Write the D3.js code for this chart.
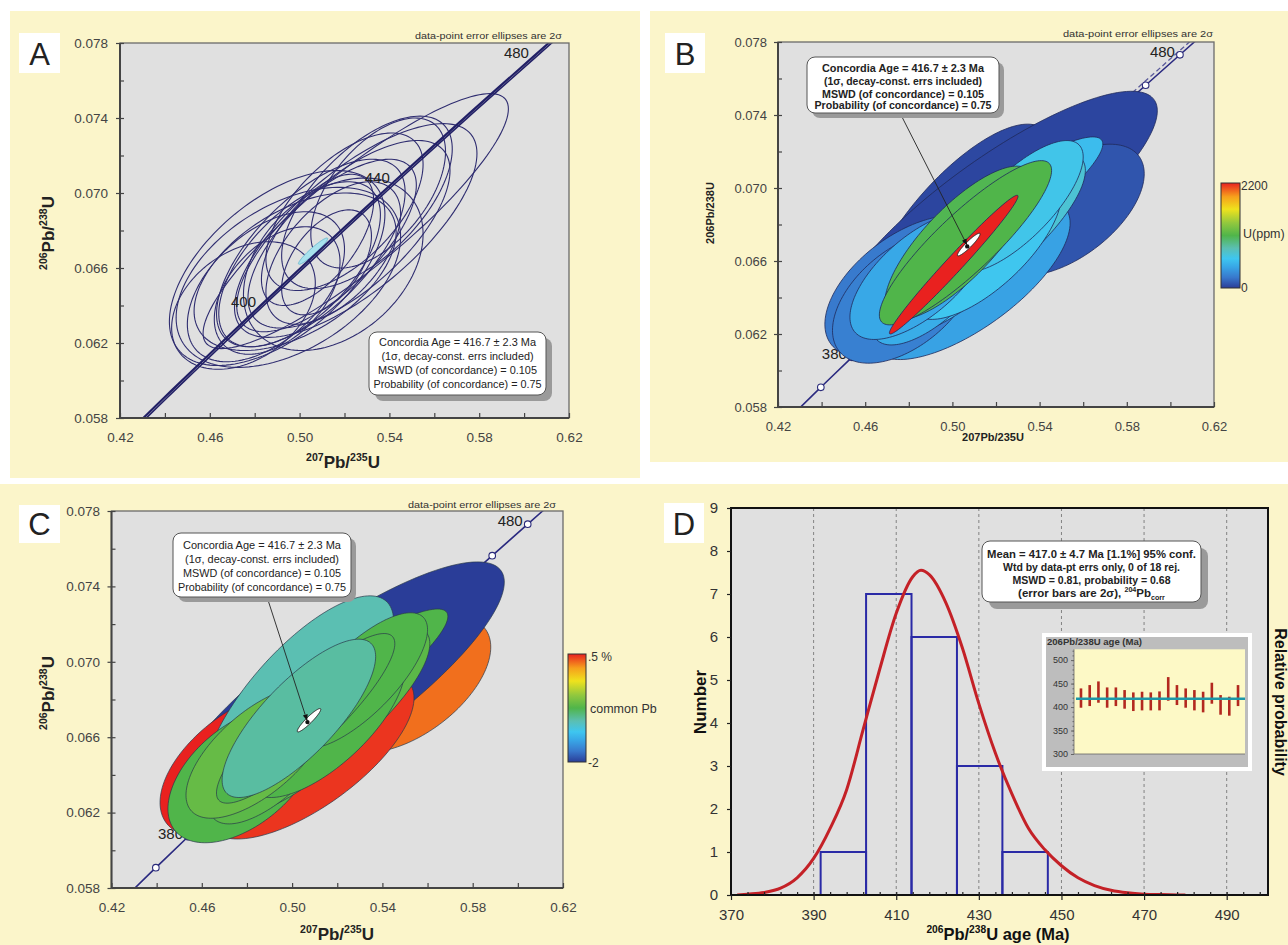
<!DOCTYPE html>
<html><head><meta charset="utf-8">
<script src="https://cdn.jsdelivr.net/npm/d3@7/dist/d3.min.js"></script>
<style>
html,body{margin:0;padding:0;background:#fff;}
svg{display:block;}
</style></head>
<body>
<svg id="chart" width="1288" height="945" xmlns="http://www.w3.org/2000/svg"></svg>
<script>
// ================= DATA =================
// Concordia curve (age in Ma, 207Pb/235U, 206Pb/238U)
const concAges = [350,360,370,380,390,400,410,420,430,440,450,460,470,480,490];
const concX = [0.41156,0.42553,0.43964,0.45389,0.46828,0.48281,0.49749,0.51231,0.52728,0.54239,0.55766,0.57307,0.58864,0.60437,0.62025];
const concY = [0.05580,0.05743,0.05908,0.06072,0.06237,0.06402,0.06567,0.06732,0.06898,0.07064,0.07230,0.07397,0.07563,0.07730,0.07898];
const labelAgesA = [400,440,480];
const labelAgesBC = [380,400,420,440,460,480];

const ratioXTicks = [0.42,0.46,0.50,0.54,0.58,0.62];
const ratioYTicks = [0.058,0.062,0.066,0.070,0.074,0.078];

// Panel A error ellipses (centre, 2-sigma half widths, correlation)
const aCX  = [0.525,0.525,0.490,0.495,0.505,0.500,0.512,0.515,0.508,0.520,0.485,0.475,0.530,0.498,0.522,0.490,0.512,0.535,0.515];
const aCY  = [0.0685,0.0680,0.0660,0.0655,0.0668,0.0662,0.0672,0.0668,0.0675,0.0690,0.0650,0.0640,0.0695,0.0658,0.0678,0.0648,0.0663,0.0700,0.0662];
const aSX  = [0.068,0.054,0.048,0.050,0.042,0.036,0.040,0.030,0.025,0.035,0.035,0.032,0.038,0.045,0.045,0.028,0.020,0.030,0.040];
const aSY  = [0.0068,0.0057,0.0052,0.0048,0.0050,0.0044,0.0046,0.0038,0.0035,0.0042,0.0040,0.0034,0.0046,0.0042,0.0050,0.0034,0.0028,0.0040,0.0046];
const aRho = [0.88,0.72,0.55,0.45,0.65,0.60,0.70,0.55,0.60,0.60,0.50,0.35,0.62,0.50,0.68,0.45,0.50,0.55,0.35];

// Panels B and C filled error ellipses with U (ppm) and common Pb (%)
const bCX  = [0.520,0.553,0.480,0.508,0.478,0.512,0.515,0.503,0.506,0.503,0.5006,0.498,0.505,0.493,0.515,0.500,0.530,0.485];
const bCY  = [0.0686,0.0688,0.0646,0.0650,0.0640,0.0679,0.0672,0.0680,0.0670,0.0670,0.0658,0.0660,0.0662,0.0650,0.0668,0.0648,0.0690,0.0652];
const bSX  = [0.074,0.035,0.0385,0.046,0.033,0.057,0.046,0.042,0.0395,0.034,0.0295,0.037,0.041,0.030,0.035,0.040,0.030,0.032];
const bSY  = [0.0067,0.0036,0.0039,0.0044,0.0036,0.0049,0.0047,0.0055,0.0045,0.0042,0.0038,0.0042,0.0044,0.0036,0.0040,0.0040,0.0036,0.0035];
const bRho = [0.84,0.55,0.53,0.70,0.50,0.92,0.80,0.75,0.88,0.78,0.985,0.80,0.75,0.70,0.70,0.60,0.75,0.65];
const bU   = [30,90,230,420,260,560,720,40,1100,1080,2200,520,580,480,620,280,640,450];
const bPb  = [-2,0.3,0.5,0.45,-0.75,-0.75,-0.7,-1.05,-0.75,-1.0,-0.75,-0.25,-0.7,-0.7,-0.75,-0.35,-0.75,-0.65];
const orderB = [7,0,1,2,15,3,4,5,6,11,12,13,14,16,17,9,8,10];
const orderC = [1,0,2,15,3,7,4,5,6,10,11,12,13,14,16,17,8,9];

// Concordia-age ellipse
const cAgeX = [0.5060, 0.5075];
const cAgeY = [0.0669, 0.0669];
const cAgeSX = [0.0065, 0.0052];
const cAgeSY = [0.0007, 0.00062];
const cAgeRho = [0.95, 0.93];

// Colour ramp (shared by U and common Pb bars)
const rampPos = [0,0.1,0.2,0.28,0.38,0.5,0.62,0.75,0.87,1];
const rampCol = ["#2a3d98","#3878cc","#38a6e6","#3ec6f0","#5bbfb2","#50b54a","#92c83e","#efe21d","#f6a01c","#e9211f"];

// Panel D histogram + probability curve
const binEdges  = [391.7,402.7,413.7,424.7,435.7,446.7];
const binCounts = [1,7,6,3,1];
const probAges = [371.5,374,378,382,386,390,394,398,402,406,410,414,416,418,422,426,430,434,438,442,446,450,454,458,462,466,470,474,480];
const probVals = [0.0,0.02,0.06,0.16,0.40,0.85,1.55,2.45,3.85,5.25,6.55,7.40,7.55,7.45,6.80,5.75,4.45,3.30,2.35,1.55,1.05,0.68,0.40,0.22,0.11,0.05,0.02,0.01,0.0];
const ageTicks = [370,390,410,430,450,470,490];
const countTicks = [0,1,2,3,4,5,6,7,8,9];

// Inset: individual 206Pb/238U ages with 2-sigma bars
const insetTop    = [439.7,446.8,454.6,441.8,441.8,436.2,431.2,432.6,431.2,433.3,463.8,446.8,439.7,436.2,432.6,451.8,425.5,422.0,446.8];
const insetBottom = [398.6,402.1,409.2,398.6,402.1,396.5,391.5,392.9,392.9,392.9,413.5,404.3,398.6,392.9,388.7,407.1,383.7,381.6,402.1];
const insetMean = 417.7;
const insetTicks = [300,350,400,450,500];

// ================= DRAWING =================
const FONT = '"Liberation Sans", Arial, Helvetica, sans-serif';
const svg = d3.select("#chart");
const defs = svg.append("defs");

const yellow = "#fbf5ca";
[[10,11,630,467],[650,11,638,451],[0,484,662,461],[662,484,626,461]].forEach(r=>{
  svg.append("rect").attr("x",r[0]).attr("y",r[1]).attr("width",r[2]).attr("height",r[3]).attr("fill",yellow);
});

const ramp = d3.scaleLinear().domain(rampPos).range(rampCol).interpolate(d3.interpolateRgb);
const uScale = d3.scaleLinear().domain([0,2200]).range([0,1]).clamp(true);
const pbScale = d3.scaleLinear().domain([-2,0.5]).range([0,1]).clamp(true);

const grad = defs.append("linearGradient").attr("id","ramp").attr("x1","0").attr("y1","1").attr("x2","0").attr("y2","0");
rampPos.forEach((p,i)=>grad.append("stop").attr("offset",p).attr("stop-color",rampCol[i]));

defs.append("marker").attr("id","arrow").attr("viewBox","0 0 10 10").attr("refX",9).attr("refY",5)
  .attr("markerWidth",7).attr("markerHeight",7).attr("orient","auto")
  .append("path").attr("d","M0,1 L10,5 L0,9 z").attr("fill","#111");

function rich(parent,x,y,parts,o){
  o=o||{};
  const size=o.size||12;
  const t=parent.append("text").attr("x",x).attr("y",y).attr("font-family",FONT).attr("font-size",size)
    .attr("font-weight",o.weight||"normal").attr("text-anchor",o.anchor||"middle").attr("fill",o.fill||"#222");
  if(o.rotate!=null) t.attr("transform",`rotate(${o.rotate},${x},${y})`);
  if(o.len) t.attr("textLength",o.len).attr("lengthAdjust","spacingAndGlyphs");
  let cur=0;
  parts.forEach(p=>{
    const s=typeof p==="string"?p:p[0]; const k=typeof p==="string"?"n":p[1];
    const target=k==="sup"?-size*0.4:k==="sub"?size*0.25:0;
    const ts=t.append("tspan").attr("dy",target-cur).text(s);
    if(k!=="n") ts.attr("font-size",size*0.62);
    cur=target;
  });
  return t;
}

function ellipsePath(xs,ys,cx,cy,sx,sy,r){
  const k=Math.sqrt(Math.max(0,1-r*r)); const pts=[];
  for(let i=0;i<140;i++){const t=i/140*2*Math.PI; pts.push([xs(cx+sx*Math.cos(t)), ys(cy+sy*(r*Math.cos(t)+k*Math.sin(t)))]);}
  return d3.line().curve(d3.curveLinearClosed)(pts);
}

function letterBox(x,y,w,h,L){
  svg.append("rect").attr("x",x).attr("y",y).attr("width",w).attr("height",h).attr("fill","#fff");
  svg.append("text").attr("x",x+w/2).attr("y",y+h-8).attr("text-anchor","middle").attr("font-family",FONT)
    .attr("font-size",31).attr("fill","#222").text(L);
}

function legendBox(x,y,w,h,lines,o){
  const g=svg.append("g");
  g.append("rect").attr("x",x+o.sh).attr("y",y+o.sh).attr("width",w).attr("height",h).attr("rx",8).attr("fill","#9a9a9a");
  g.append("rect").attr("x",x).attr("y",y).attr("width",w).attr("height",h).attr("rx",8).attr("fill","#fff").attr("stroke","#555").attr("stroke-width",1);
  lines.forEach((ln,i)=>{
    rich(g,x+w/2,o.base[i],ln.parts,{size:o.size,weight:o.weight,len:ln.len,fill:"#222"});
  });
}

function makeScatter(id,P){
  const xs=d3.scaleLinear().domain([0.42,0.62]).range([P.x0,P.x1]);
  const ys=d3.scaleLinear().domain([0.058,0.078]).range([P.y1,P.y0]);
  const g=svg.append("g");
  g.append("rect").attr("x",P.x0).attr("y",P.y0).attr("width",P.x1-P.x0).attr("height",P.y1-P.y0).attr("fill","#e0e0e0");
  defs.append("clipPath").attr("id","clip"+id).append("rect").attr("x",P.x0).attr("y",P.y0).attr("width",P.x1-P.x0).attr("height",P.y1-P.y0);
  const gc=g.append("g").attr("clip-path",`url(#clip${id})`);
  return {xs,ys,g,gc,P};
}

function scatterAxes(S,o){
  const P=S.P, g=svg.append("g");
  g.append("rect").attr("x",P.x0).attr("y",P.y0).attr("width",P.x1-P.x0).attr("height",P.y1-P.y0)
    .attr("fill","none").attr("stroke","#6a6a6a").attr("stroke-width",1.3);
  g.append("line").attr("x1",P.x0).attr("x2",P.x0).attr("y1",P.y0).attr("y2",P.y1).attr("stroke","#444").attr("stroke-width",2);
  g.append("line").attr("x1",P.x0).attr("x2",P.x1).attr("y1",P.y1).attr("y2",P.y1).attr("stroke","#444").attr("stroke-width",2);
  const ya=d3.axisLeft(S.ys).tickValues(ratioYTicks).tickFormat(d3.format(".3f")).tickSize(4).tickPadding(o.ypad);
  const gy=g.append("g").attr("transform",`translate(${P.x0},0)`).call(ya);
  const ym=d3.axisRight(S.ys).tickValues(d3.range(0.058,0.0781,0.002)).tickFormat("").tickSize(4);
  const gym=g.append("g").attr("transform",`translate(${P.x0},0)`).call(ym);
  const xa=d3.axisBottom(S.xs).tickValues(ratioXTicks).tickFormat(d3.format(".2f")).tickSize(0).tickPadding(o.xpad);
  const gx=g.append("g").attr("transform",`translate(0,${P.y1})`).call(xa);
  const xm=d3.axisTop(S.xs).tickValues(d3.range(0.42,0.621,0.02)).tickFormat("").tickSize(5);
  const gxm=g.append("g").attr("transform",`translate(0,${P.y1})`).call(xm);
  [gy,gym,gx,gxm].forEach(a=>{
    a.attr("font-family",null).attr("font-size",null);
    a.select(".domain").remove();
    a.selectAll(".tick line").attr("stroke","#444").attr("stroke-width",1.2);
    a.selectAll(".tick text").attr("font-family",FONT).attr("font-size",o.fs).attr("fill","#444");
  });
  g.append("text").attr("x",o.noteX).attr("y",o.noteY).attr("text-anchor","end").attr("font-family",FONT)
    .attr("font-size",9.5).attr("fill","#333").attr("textLength",o.noteLen).attr("lengthAdjust","spacingAndGlyphs")
    .text("data-point error ellipses are 2σ");
}

function concPath(S){
  return d3.line().x(i=>S.xs(concX[i])).y(i=>S.ys(concY[i])).curve(d3.curveCatmullRom)(d3.range(concAges.length));
}

function ageLabels(S,ages,layer){
  ages.forEach(a=>{
    const i=concAges.indexOf(a);
    layer.append("text").attr("x",S.xs(concX[i])-5).attr("y",S.ys(concY[i])+2).attr("text-anchor","end")
      .attr("font-family",FONT).attr("font-size",15).attr("fill","#222").text(a);
  });
}

function markers(S,layer){
  concAges.forEach((a,i)=>{
    layer.append("circle").attr("cx",S.xs(concX[i])).attr("cy",S.ys(concY[i])).attr("r",3.3)
      .attr("fill","#fff").attr("stroke","#2a2a7a").attr("stroke-width",1.1);
  });
}

// ---------------- Panel A ----------------
const A = makeScatter("A",{x0:120,x1:569,y0:43,y1:418});
aCX.forEach((c,i)=>{
  A.gc.append("path").attr("d",ellipsePath(A.xs,A.ys,aCX[i],aCY[i],aSX[i],aSY[i],aRho[i]))
    .attr("fill","none").attr("stroke","#2f2d70").attr("stroke-width",1.1);
});
A.gc.append("path").attr("d",ellipsePath(A.xs,A.ys,cAgeX[0],cAgeY[0],cAgeSX[0],cAgeSY[0],cAgeRho[0]))
  .attr("fill","#a8e2ee").attr("stroke","#6fbcd2").attr("stroke-width",1);
A.gc.append("path").attr("d",concPath(A)).attr("fill","none").attr("stroke","#222066").attr("stroke-width",2.2);
A.gc.append("path").attr("d",concPath(A)).attr("transform","translate(3,0)").attr("fill","none").attr("stroke","#222066").attr("stroke-width",1.6);
ageLabels(A,labelAgesA,A.gc);
scatterAxes(A,{ypad:8,xpad:14,fs:13.5,noteX:562,noteY:39,noteLen:147});
rich(svg,48+6,233,[["206","sup"],"Pb/",["238","sup"],"U"],{size:17,weight:"bold",rotate:-90});
rich(svg,343,468,[["207","sup"],"Pb/",["235","sup"],"U"],{size:17,weight:"bold"});
const concLines = [
  {parts:["Concordia Age = 416.7 ± 2.3 Ma"]},
  {parts:["(1σ, decay-const.  errs included)"]},
  {parts:["MSWD (of concordance) = 0.105"]},
  {parts:["Probability (of concordance) = 0.75"]}
];
legendBox(369,332,177,63,concLines.map((l,i)=>({parts:l.parts,len:[157,152,159,168][i]})),{sh:6,size:11,weight:"normal",base:[345.5,360,374,388]});
letterBox(19,33,41,40,"A");

// ---------------- Panel B ----------------
const B = makeScatter("B",{x0:778,x1:1214,y0:42,y1:407});
B.gc.append("path").attr("d",concPath(B)).attr("fill","none").attr("stroke","#2b2a80").attr("stroke-width",1.6);
B.gc.append("path").attr("d",d3.line().x(i=>B.xs(concX[i])-5).y(i=>B.ys(concY[i]))(d3.range(10,15)))
  .attr("fill","none").attr("stroke","#5a5a9a").attr("stroke-width",1.3).attr("stroke-dasharray","5,3");
markers(B,B.gc);
ageLabels(B,labelAgesBC,B.gc);
orderB.forEach(i=>{
  B.gc.append("path").attr("d",ellipsePath(B.xs,B.ys,bCX[i],bCY[i],bSX[i],bSY[i],bRho[i]))
    .attr("fill",ramp(uScale(bU[i]))).attr("stroke","#1f2a5a").attr("stroke-width",0.8);
});
B.gc.append("path").attr("d",ellipsePath(B.xs,B.ys,cAgeX[1],cAgeY[1],cAgeSX[1],cAgeSY[1],cAgeRho[1]))
  .attr("fill","#fff").attr("stroke","#222").attr("stroke-width",1);
B.gc.append("circle").attr("cx",B.xs(0.5068)).attr("cy",B.ys(0.0668)).attr("r",2.2).attr("fill","#111");
scatterAxes(B,{ypad:7,xpad:15,fs:13,noteX:1213,noteY:36.5,noteLen:150});
svg.append("line").attr("x1",900).attr("y1",113).attr("x2",B.xs(0.5066)).attr("y2",B.ys(0.0669))
  .attr("stroke","#222").attr("stroke-width",0.9).attr("marker-end","url(#arrow)");
legendBox(807,57,192,56,concLines.map((l,i)=>({parts:l.parts,len:[162,158,162,177][i]})),{sh:5,size:11,weight:"bold",base:[72,85,98,109]});
rich(svg,710+4,213,["206Pb/238U"],{size:11,weight:"bold",rotate:-90});
rich(svg,993,441,["207Pb/235U"],{size:11,weight:"bold"});
svg.append("rect").attr("x",1221).attr("y",183).attr("width",19).attr("height",105).attr("fill","url(#ramp)").attr("stroke","#333").attr("stroke-width",1);
svg.append("text").attr("x",1241).attr("y",190).attr("font-family",FONT).attr("font-size",12).attr("fill","#333").text("2200");
svg.append("text").attr("x",1243).attr("y",238).attr("font-family",FONT).attr("font-size",12.5).attr("fill","#333").text("U(ppm)");
svg.append("text").attr("x",1241).attr("y",292).attr("font-family",FONT).attr("font-size",12).attr("fill","#333").text("0");
letterBox(665,33,40,40,"B");

// ---------------- Panel C ----------------
const C = makeScatter("C",{x0:111.5,x1:563,y0:511,y1:888});
C.gc.append("path").attr("d",concPath(C)).attr("fill","none").attr("stroke","#2b2a80").attr("stroke-width",1.6);
markers(C,C.gc);
ageLabels(C,labelAgesBC,C.gc);
orderC.forEach(i=>{
  C.gc.append("path").attr("d",ellipsePath(C.xs,C.ys,bCX[i],bCY[i],bSX[i],bSY[i],bRho[i]))
    .attr("fill",ramp(pbScale(bPb[i]))).attr("stroke","#2a3a4a").attr("stroke-width",0.7);
});
C.gc.append("path").attr("d",ellipsePath(C.xs,C.ys,cAgeX[1],cAgeY[1],cAgeSX[1],cAgeSY[1],cAgeRho[1]))
  .attr("fill","#fff").attr("stroke","#222").attr("stroke-width",1);
C.gc.append("circle").attr("cx",C.xs(0.5068)).attr("cy",C.ys(0.0668)).attr("r",2.2).attr("fill","#111");
scatterAxes(C,{ypad:7.5,xpad:14.5,fs:13.5,noteX:556,noteY:508,noteLen:148});
svg.append("line").attr("x1",267).attr("y1",597).attr("x2",C.xs(0.5066)).attr("y2",C.ys(0.0669))
  .attr("stroke","#222").attr("stroke-width",0.9).attr("marker-end","url(#arrow)");
legendBox(173,533,178,64,concLines.map((l,i)=>({parts:l.parts,len:[158,154,158,168][i]})),{sh:5,size:11,weight:"normal",base:[549,563,577,591]});
rich(svg,48+6,693,[["206","sup"],"Pb/",["238","sup"],"U"],{size:17,weight:"bold",rotate:-90});
rich(svg,337,940,[["207","sup"],"Pb/",["235","sup"],"U"],{size:17,weight:"bold"});
svg.append("rect").attr("x",568).attr("y",654).attr("width",18).attr("height",108).attr("fill","url(#ramp)").attr("stroke","#333").attr("stroke-width",1);
svg.append("text").attr("x",588).attr("y",661).attr("font-family",FONT).attr("font-size",12).attr("fill","#333").text(".5 %");
svg.append("text").attr("x",590).attr("y",713).attr("font-family",FONT).attr("font-size",12.5).attr("fill","#333").text("common Pb");
svg.append("text").attr("x",588).attr("y",767).attr("font-family",FONT).attr("font-size",12).attr("fill","#333").text("-2");
letterBox(19,505,41,38,"C");

// ---------------- Panel D ----------------
const xD=d3.scaleLinear().domain([370,500]).range([731,1268]);
const yD=d3.scaleLinear().domain([0,9]).range([895,508]);
const D=svg.append("g");
D.append("rect").attr("x",731).attr("y",508).attr("width",537).attr("height",387).attr("fill","#e0e0e0");
defs.append("clipPath").attr("id","clipD").append("rect").attr("x",731).attr("y",508).attr("width",537).attr("height",387);
const Dc=D.append("g").attr("clip-path","url(#clipD)");
ageTicks.slice(1).forEach(a=>{
  Dc.append("line").attr("x1",xD(a)).attr("x2",xD(a)).attr("y1",508).attr("y2",895)
    .attr("stroke","#777").attr("stroke-width",0.9).attr("stroke-dasharray","3,3");
});
binCounts.forEach((c,i)=>{
  Dc.append("rect").attr("x",xD(binEdges[i])).attr("y",yD(c)).attr("width",xD(binEdges[i+1])-xD(binEdges[i]))
    .attr("height",yD(0)-yD(c)).attr("fill","none").attr("stroke","#2a2aa6").attr("stroke-width",2);
});
Dc.append("path").attr("d",d3.line().x((a,i)=>xD(probAges[i])).y((a,i)=>yD(probVals[i])).curve(d3.curveMonotoneX)(probAges))
  .attr("fill","none").attr("stroke","#c42127").attr("stroke-width",3);
D.append("rect").attr("x",731).attr("y",508).attr("width",537).attr("height",387).attr("fill","none").attr("stroke","#111").attr("stroke-width",2);
const dxa=D.append("g").attr("transform","translate(0,895)").call(d3.axisBottom(xD).tickValues(ageTicks).tickSize(5).tickPadding(9));
const dxm=D.append("g").attr("transform","translate(0,895)").call(d3.axisTop(xD).tickValues(d3.range(374,500,4)).tickFormat("").tickSize(3));
const dya=D.append("g").attr("transform","translate(731,0)").call(d3.axisLeft(yD).tickValues(countTicks).tickSize(4).tickPadding(9));
[dxa,dxm,dya].forEach(a=>{
  a.attr("font-family",null).attr("font-size",null);
  a.select(".domain").remove();
  a.selectAll(".tick line").attr("stroke","#222").attr("stroke-width",1.2);
  a.selectAll(".tick text").attr("font-family",FONT).attr("font-size",15).attr("fill","#333");
});
rich(svg,700+6,702,["Number"],{size:17,weight:"bold",rotate:-90,fill:"#111"});
rich(svg,1280-5,702,["Relative probability"],{size:16,weight:"bold",rotate:90,fill:"#111"});
rich(svg,998,940,[["206","sup"],"Pb/",["238","sup"],"U age (Ma)"],{size:16.5,weight:"bold",fill:"#111"});

legendBox(982,541,219,61,[
  {parts:["Mean = 417.0 ± 4.7 Ma [1.1%]  95% conf."],len:209},
  {parts:["Wtd by data-pt errs only, 0 of 18 rej."],len:177},
  {parts:["MSWD = 0.81, probability = 0.68"],len:158},
  {parts:["(error bars are 2σ),  ",["204","sup"],"Pb",["corr","sub"]]}
],{sh:7,size:11.5,weight:"bold",base:[558,571,583.5,597]});

// inset
const gi=svg.append("g");
gi.append("rect").attr("x",1042).attr("y",633).attr("width",210).attr("height",138).attr("fill","#fff");
gi.append("rect").attr("x",1046).attr("y",637).attr("width",202).attr("height",130).attr("fill","#bdbdbd");
const ixs=d3.scaleLinear().domain([-0.8,18.8]).range([1074,1245]);
const iys=d3.scaleLinear().domain([300,523]).range([754,649.3]);
gi.append("rect").attr("x",1074).attr("y",649.3).attr("width",171).attr("height",104.7).attr("fill","#fdf9c6");
gi.append("line").attr("x1",1074).attr("x2",1074).attr("y1",649.3).attr("y2",754).attr("stroke","#666").attr("stroke-width",0.8);
gi.append("line").attr("x1",1074).attr("x2",1245).attr("y1",754).attr("y2",754).attr("stroke","#666").attr("stroke-width",0.8);
const iya=gi.append("g").attr("transform","translate(1074,0)").call(d3.axisLeft(iys).tickValues(insetTicks).tickSize(3).tickPadding(3));
const iym=gi.append("g").attr("transform","translate(1074,0)").call(d3.axisLeft(iys).tickValues(d3.range(300,521,10)).tickFormat("").tickSize(1.5));
[iya,iym].forEach(a=>{
  a.attr("font-family",null).attr("font-size",null);
  a.select(".domain").remove();
  a.selectAll(".tick line").attr("stroke","#666");
  a.selectAll(".tick text").attr("font-family",FONT).attr("font-size",9).attr("fill","#333");
});
insetTop.forEach((t,i)=>{
  gi.append("rect").attr("x",ixs(i)-1.3).attr("y",iys(t)).attr("width",2.6).attr("height",iys(insetBottom[i])-iys(t)).attr("fill","#b3281f");
});
gi.append("line").attr("x1",1076).attr("x2",1245).attr("y1",iys(insetMean)).attr("y2",iys(insetMean)).attr("stroke","#1d97a8").attr("stroke-width",2.5);
gi.append("text").attr("x",1047).attr("y",644.5).attr("font-family",FONT).attr("font-size",9.5).attr("font-weight","bold").attr("fill","#333")
  .attr("textLength",95).attr("lengthAdjust","spacingAndGlyphs").text("206Pb/238U age (Ma)");

letterBox(664,503,40,40,"D");
</script>
</body></html>
